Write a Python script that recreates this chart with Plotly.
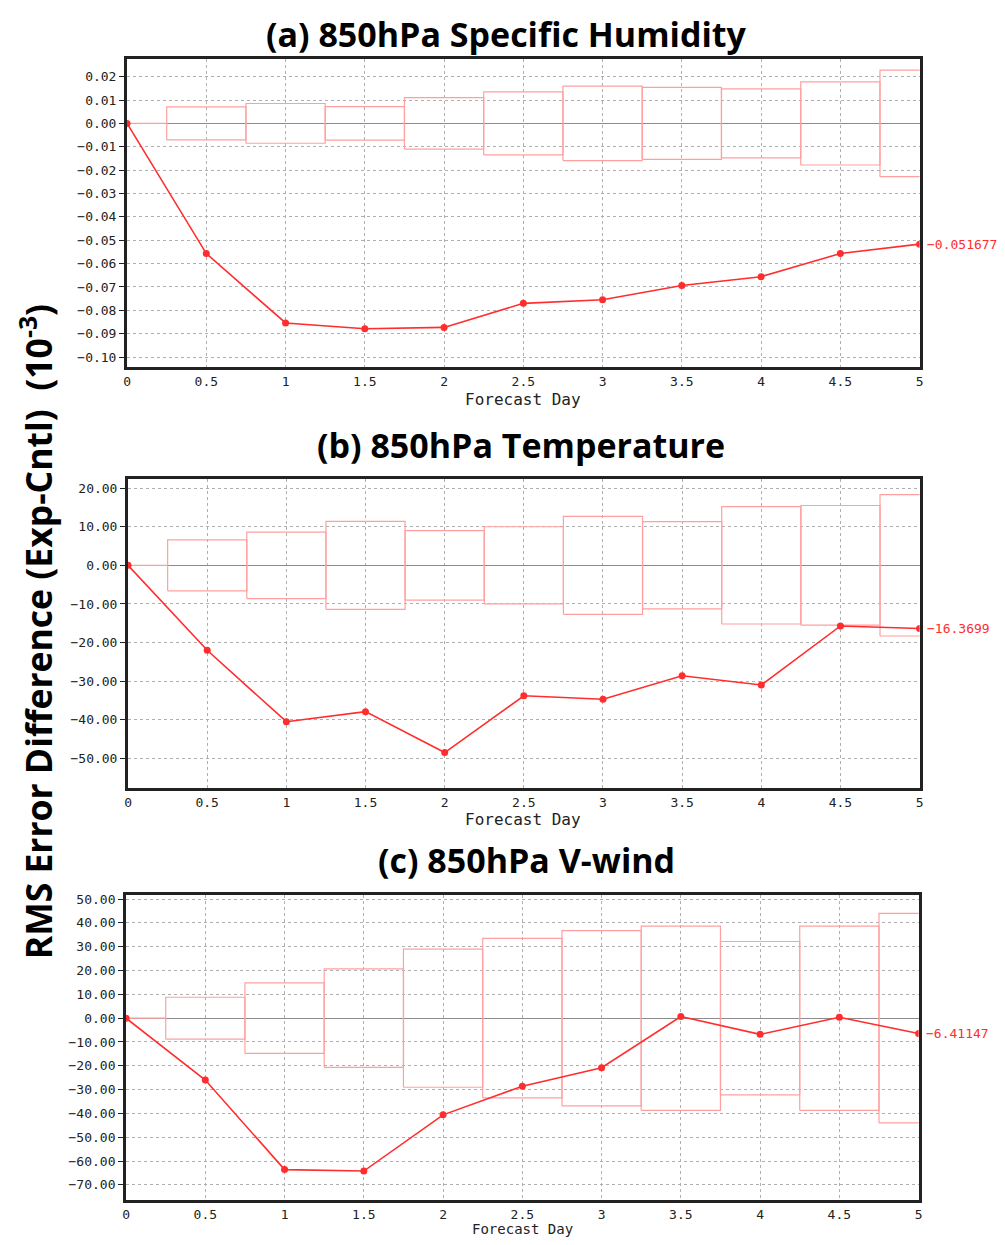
import plotly.graph_objects as go

# ---------------- data ----------------
days = [0, 0.5, 1.0, 1.5, 2.0, 2.5, 3.0, 3.5, 4.0, 4.5, 5.0]
x_ticks = [0, 0.5, 1, 1.5, 2, 2.5, 3, 3.5, 4, 4.5, 5]

q_diff = [0, -0.0557, -0.0854, -0.0879, -0.0873, -0.0770, -0.0755, -0.0694, -0.0656, -0.0557, -0.051677]
q_spread = [0, 0.0071, 0.0085, 0.0072, 0.0110, 0.0135, 0.0159, 0.0154, 0.0148, 0.0178, 0.0228]

t_diff = [0, -22.0, -40.5, -37.9, -48.5, -33.8, -34.7, -28.6, -31.0, -15.7, -16.3699]
t_spread = [0, 6.6, 8.6, 11.4, 9.0, 10.0, 12.7, 11.3, 15.2, 15.5, 18.3]

v_diff = [0, -26.0, -63.6, -64.2, -40.6, -28.6, -20.8, 0.7, -6.8, 0.4, -6.41147]
v_spread = [0, 8.8, 14.8, 20.7, 29.0, 33.5, 36.8, 38.7, 32.2, 38.7, 44.0]

titles = ["(a) 850hPa Specific Humidity", "(b) 850hPa Temperature", "(c) 850hPa V-wind"]
end_labels = ["−0.051677", "−16.3699", "−6.41147"]
y_ticks_a = [0.02, 0.01, 0.00, -0.01, -0.02, -0.03, -0.04, -0.05, -0.06, -0.07, -0.08, -0.09, -0.10]
y_ticks_b = [20, 10, 0, -10, -20, -30, -40, -50]
y_ticks_c = [50, 40, 30, 20, 10, 0, -10, -20, -30, -40, -50, -60, -70]
ylabel = "RMS Error Difference (Exp-Cntl)  (10<sup>-3</sup>)"
xlabel = "Forecast Day"

# ---------------- layout geometry (reference pixels) ----------------
OFF = 8                      # browser body margin
W, H = 1005 - 2 * OFF, 1245 - 2 * OFF


def px(x):
    return (x - OFF) / W


def py(y):
    return 1 - (y - OFF) / H


panels = [
    dict(x0=124, x1=923, y0=56, y1=365, yr=[-0.1043, 0.0276], yt=y_ticks_a,
         title_xy=(507, 31), xl_y=397, xl_size=16),
    dict(x0=125, x1=923, y0=477, y1=787, yr=[-57.7, 22.4], yt=y_ticks_b,
         title_xy=(521, 443), xl_y=818, xl_size=16),
    dict(x0=123, x1=922, y0=894, y1=1200, yr=[-76.4, 51.8], yt=y_ticks_c,
         title_xy=(527, 859), xl_y=1229, xl_size=14),
]
series = [(q_diff, q_spread), (t_diff, t_spread), (v_diff, v_spread)]

RED = "rgb(255,45,45)"
BOXRED = "rgb(255,160,160)"
GRID = "rgb(175,175,175)"
TICKFONT = dict(family="DejaVu Sans Mono", size=13, color="#222")

fig = go.Figure()
annotations = []

for i, (p, (diff, spread)) in enumerate(zip(panels, series)):
    n = "" if i == 0 else str(i + 1)
    xa, ya = "x" + n, "y" + n
    # spread boxes (one box per forecast time, half-width 0.25 day)
    bx, by = [], []
    for c, h in zip(days, spread):
        bx += [c - 0.25, c + 0.25, c + 0.25, c - 0.25, c - 0.25, None]
        by += [-h, -h, h, h, -h, None]
    fig.add_trace(go.Scatter(x=bx, y=by, mode="lines", xaxis=xa, yaxis=ya,
                             line=dict(color=BOXRED, width=1.2), showlegend=False,
                             hoverinfo="skip"))
    # difference line
    fig.add_trace(go.Scatter(x=days, y=diff, mode="lines+markers", xaxis=xa, yaxis=ya,
                             line=dict(color=RED, width=1.6),
                             marker=dict(color=RED, size=7), showlegend=False))
    dom_x = [px(p["x0"]), px(p["x1"])]
    dom_y = [py(p["y1"]), py(p["y0"])]
    fig.update_layout(**{
        "xaxis" + n: dict(domain=dom_x, anchor=ya, range=[0, 5], tickvals=x_ticks,
                          showgrid=True, gridcolor=GRID, griddash="dot", gridwidth=1,
                          showline=True, mirror=True, linecolor="#222", linewidth=3,
                          ticks="", tickfont=TICKFONT, zeroline=False),
        "yaxis" + n: dict(domain=dom_y, anchor=xa, range=p["yr"], tickvals=p["yt"],
                          tickformat=".2f",
                          showgrid=True, gridcolor=GRID, griddash="dot", gridwidth=1,
                          showline=True, mirror=True, linecolor="#222", linewidth=3,
                          ticks="outside", ticklen=5, tickcolor="#222",
                          tickfont=TICKFONT, zeroline=True, zerolinecolor="rgb(140,140,140)",
                          zerolinewidth=1),
    })
    # panel title
    annotations.append(dict(text="<b>" + titles[i] + "</b>", xref="paper", yref="paper",
                            x=px(p["title_xy"][0]), y=py(p["title_xy"][1]),
                            xanchor="center", yanchor="middle", showarrow=False,
                            font=dict(family="Open Sans", size=34, color="#000")))
    # x-axis label
    annotations.append(dict(text=xlabel, xref="paper", yref="paper",
                            x=px(523), y=py(p["xl_y"]), xanchor="center", yanchor="middle",
                            showarrow=False,
                            font=dict(family="DejaVu Sans Mono", size=p["xl_size"],
                                      color="#222")))
    # value label at the end of the line
    annotations.append(dict(text=end_labels[i], xref=xa, yref=ya, x=days[-1], y=diff[-1],
                            xanchor="left", yanchor="middle", xshift=5, showarrow=False,
                            font=dict(family="DejaVu Sans Mono", size=13, color=RED)))

annotations.append(dict(text="<b>" + ylabel + "</b>", xref="paper", yref="paper",
                        x=px(33), y=py(630), xanchor="center", yanchor="middle",
                        textangle=-90, showarrow=False,
                        font=dict(family="Open Sans", size=35.5, color="#000")))

fig.update_layout(width=W, height=H, margin=dict(l=0, r=0, t=0, b=0),
                  paper_bgcolor="white", plot_bgcolor="white",
                  annotations=annotations)

fig.write_html("out.html")
